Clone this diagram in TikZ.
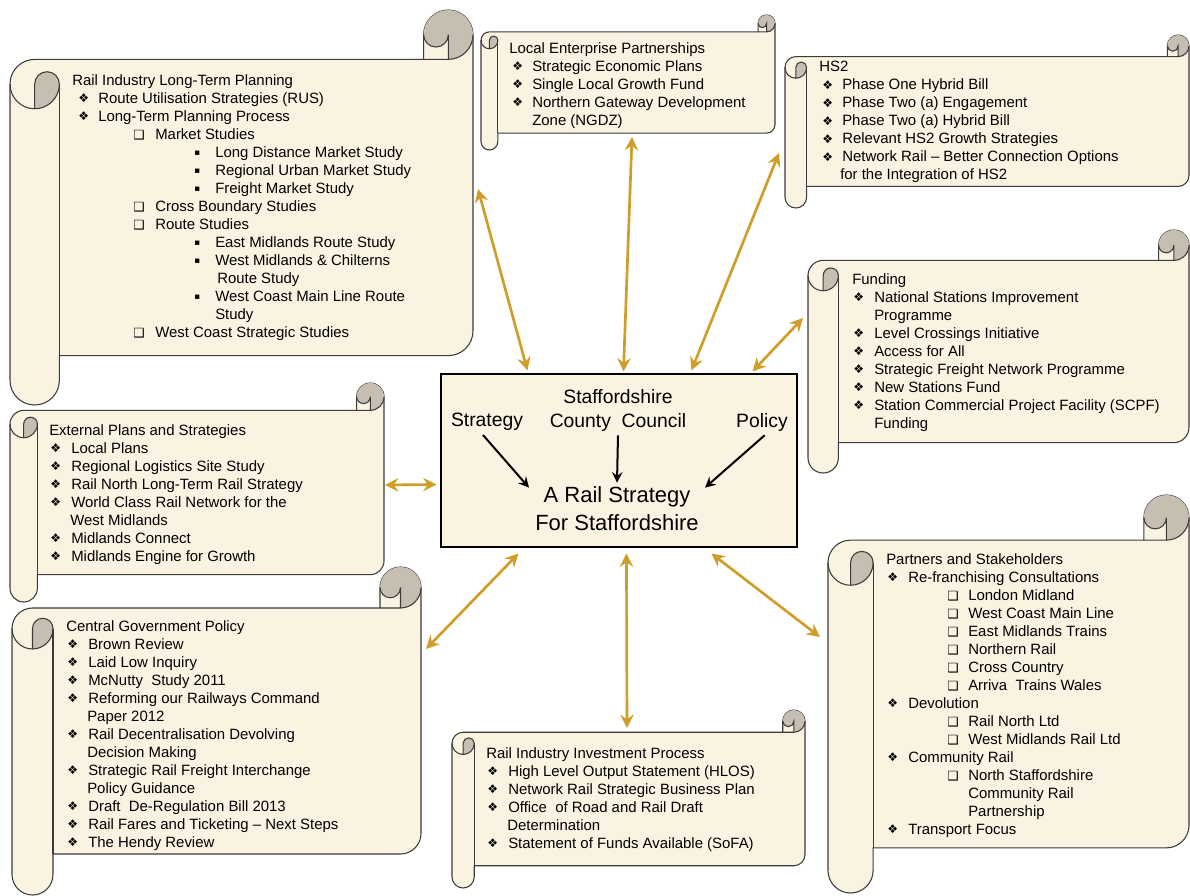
\documentclass[tikz,border=0pt]{standalone}
\usepackage{fontspec}
\setmainfont{Liberation Sans}
\newfontfamily\symfont{DejaVu Sans}
\usetikzlibrary{arrows.meta}

\definecolor{paper}{RGB}{250,243,226}
\definecolor{curlshade}{RGB}{198,190,176}
\definecolor{rim}{RGB}{60,60,60}
\definecolor{ochre}{RGB}{207,157,42}

\newdimen\pxu \pxu=0.75pt
\newlength\indone \newlength\txtone
\newlength\indtwo \newlength\txttwo
\newlength\indthree \newlength\txtthree
\newcommand\setindents[2]{\setlength\indone{#1\pxu}\setlength\txtone{#2\pxu}}
\newcommand\setdeep[4]{\setlength\indtwo{#1\pxu}\setlength\txttwo{#2\pxu}%
  \setlength\indthree{#3\pxu}\setlength\txtthree{#4\pxu}}
\newcommand\diamondmark{\raisebox{0.3pt}{\symfont\fontsize{9}{9}\selectfont ❖}}
\newcommand\boxmark{\raisebox{0pt}{\symfont\fontsize{9.5}{9.5}\selectfont ❑}}
\newcommand\squaremark{\raisebox{1pt}{\symfont\fontsize{6.5}{6.5}\selectfont ▪}}
\newcommand\itemone[1]{\hspace*{\indone}\makebox[\dimexpr\txtone-\indone\relax][l]{\diamondmark}#1}
\newcommand\itemtwo[1]{\hspace*{\indtwo}\makebox[\dimexpr\txttwo-\indtwo\relax][l]{\boxmark}#1}
\newcommand\itemthree[1]{\hspace*{\indthree}\makebox[\dimexpr\txtthree-\indthree\relax][l]{\squaremark}#1}
\newcommand\contline[2]{\hspace*{#1\pxu}#2}

% horizontal scroll: left, top, right, bottom (in pixels)
\newcommand\railscroll[4]{%
  \pgfmathsetmacro\sch{0.125*min(#3-#1,#4-#2)}%
  \pgfmathsetmacro\schh{\sch/2}%
  \pgfmathsetmacro\schq{\sch/4}%
  \filldraw[scroll] (#1,#2+1.5*\sch) arc[start angle=180,end angle=270,radius=\schh]
    -- (#3-\sch,#2+\sch) -- (#3-\sch,#2+\schh)
    arc[start angle=180,end angle=360,radius=\schh]
    -- (#3,#4-1.5*\sch)
    arc[start angle=0,end angle=90,radius=\schh]
    -- (#1+\sch,#4-\sch) -- (#1+\sch,#4-\schh)
    arc[start angle=0,end angle=180,radius=\schh] -- cycle;
  \fill[curl] (#3-\schh,#2+\sch) arc[start angle=90,end angle=-180,radius=\schh]
    arc[start angle=180,end angle=0,radius=\schq] -- cycle;
  \fill[curl] (#1+\schh,#2+2*\sch) arc[start angle=90,end angle=0,radius=\schh]
    arc[start angle=0,end angle=-180,radius=\schq] -- cycle;
  \draw[rimline] (#3-\sch,#2+\sch) -- (#3-\schh,#2+\sch)
    arc[start angle=90,end angle=0,radius=\schh];
  \draw[rimline] (#3-\schh,#2+\sch) -- (#3-\schh,#2+\schh)
    arc[start angle=0,end angle=180,radius=\schq];
  \draw[rimline] (#1+\schh,#2+2*\sch) -- (#1+\schh,#2+1.5*\sch)
    arc[start angle=180,end angle=360,radius=\schq]
    arc[start angle=0,end angle=180,radius=\schh];
  \draw[rimline] (#1+\sch,#2+1.5*\sch) -- (#1+\sch,#4-\sch);
}

\begin{document}
\begin{tikzpicture}[x=0.75pt, y=-0.75pt,
  scroll/.style={fill=paper, draw=rim, line width=0.8pt, line join=round},
  curl/.style={fill=curlshade},
  rimline/.style={draw=rim, line width=0.8pt},
  listtext/.style={anchor=north west, align=left, inner sep=0pt,
    font=\fontsize{11.2}{13.5}\selectfont},
  link/.style={ochre, line width=2pt,
    {Stealth[length=10pt,width=10pt,inset=3.5pt]}-{Stealth[length=10pt,width=10pt,inset=3.5pt]}},
  feed/.style={black, line width=1.5pt, -{Stealth[length=8pt,width=8pt,inset=3pt]}},
  hublabel/.style={font=\fontsize{14.5}{18}\selectfont, align=center, inner sep=3pt}]
\useasboundingbox (0,0) rectangle (1190,896);
\fill[white] (0,0) rectangle (1190,896);

% the eight scrolls
\railscroll{10}{10}{473}{405}
\railscroll{481}{15}{775}{150}
\railscroll{785}{35}{1189}{208}
\railscroll{808}{230}{1189}{473}
\railscroll{10}{383}{384}{602}
\railscroll{12}{567}{421}{895}
\railscroll{452}{710}{805}{888}
\railscroll{828}{495}{1189}{893}

\setindents{6}{26}\setdeep{61}{83}{122}{143}
\node[listtext] (ltp) at (72,74) {Rail Industry Long-Term Planning\\
  \itemone{Route Utilisation Strategies (RUS)}\\
  \itemone{Long-Term Planning Process}\\
  \itemtwo{Market Studies}\\
  \itemthree{Long Distance Market Study}\\
  \itemthree{Regional Urban Market Study}\\
  \itemthree{Freight Market Study}\\
  \itemtwo{Cross Boundary Studies}\\
  \itemtwo{Route Studies}\\
  \itemthree{East Midlands Route Study}\\
  \itemthree{West Midlands \& Chilterns}\\
  \contline{145}{Route Study}\\
  \itemthree{West Coast Main Line Route}\\
  \contline{143}{Study}\\
  \itemtwo{West Coast Strategic Studies}};

\setindents{3}{23}
\node[listtext] (lep) at (509,42) {Local Enterprise Partnerships\\
  \itemone{Strategic Economic Plans}\\
  \itemone{Single Local Growth Fund}\\
  \itemone{Northern Gateway Development}\\
  \contline{23}{Zone (NGDZ)}};

\node[listtext] (hs2) at (819,61) {HS2\\
  \itemone{Phase One Hybrid Bill}\\
  \itemone{Phase Two (a) Engagement}\\
  \itemone{Phase Two (a) Hybrid Bill}\\
  \itemone{Relevant HS2 Growth Strategies}\\
  \itemone{Network Rail -- Better Connection Options}\\
  \contline{21}{for the Integration of HS2}};

\setindents{1}{22}
\node[listtext] (fund) at (852,273) {Funding\\
  \itemone{National Stations Improvement}\\
  \contline{22}{Programme}\\
  \itemone{Level Crossings Initiative}\\
  \itemone{Access for All}\\
  \itemone{Strategic Freight Network Programme}\\
  \itemone{New Stations Fund}\\
  \itemone{Station Commercial Project Facility (SCPF)}\\
  \contline{22}{Funding}};

\node[listtext] (ext) at (49,424) {External Plans and Strategies\\
  \itemone{Local Plans}\\
  \itemone{Regional Logistics Site Study}\\
  \itemone{Rail North Long-Term Rail Strategy}\\
  \itemone{World Class Rail Network for the}\\
  \contline{21}{West Midlands}\\
  \itemone{Midlands Connect}\\
  \itemone{Midlands Engine for Growth}};

\node[listtext] (cgp) at (66,620) {Central Government Policy\\
  \itemone{Brown Review}\\
  \itemone{Laid Low Inquiry}\\
  \itemone{McNutty~ Study 2011}\\
  \itemone{Reforming our Railways Command}\\
  \contline{21}{Paper 2012}\\
  \itemone{Rail Decentralisation Devolving}\\
  \contline{21}{Decision Making}\\
  \itemone{Strategic Rail Freight Interchange}\\
  \contline{21}{Policy Guidance}\\
  \itemone{Draft~ De-Regulation Bill 2013}\\
  \itemone{Rail Fares and Ticketing -- Next Steps}\\
  \itemone{The Hendy Review}};

\node[listtext] (rip) at (486,747) {Rail Industry Investment Process\\
  \itemone{High Level Output Statement (HLOS)}\\
  \itemone{Network Rail Strategic Business Plan}\\
  \itemone{Office~ of Road and Rail Draft}\\
  \contline{21}{Determination}\\
  \itemone{Statement of Funds Available (SoFA)}};

\setdeep{61}{82}{122}{143}
\node[listtext] (pas) at (886,553) {Partners and Stakeholders\\
  \itemone{Re-franchising Consultations}\\
  \itemtwo{London Midland}\\
  \itemtwo{West Coast Main Line}\\
  \itemtwo{East Midlands Trains}\\
  \itemtwo{Northern Rail}\\
  \itemtwo{Cross Country}\\
  \itemtwo{Arriva~ Trains Wales}\\
  \itemone{Devolution}\\
  \itemtwo{Rail North Ltd}\\
  \itemtwo{West Midlands Rail Ltd}\\
  \itemone{Community Rail}\\
  \itemtwo{North Staffordshire}\\
  \contline{82}{Community Rail}\\
  \contline{82}{Partnership}\\
  \itemone{Transport Focus}};

% central box
\node[draw=black, fill=paper, line width=0.8pt, minimum width=267pt,
  minimum height=129.75pt, inner sep=0pt] (hub) at (619,460.5) {};
\node[hublabel] (strat) at (487,422) {Strategy};
\node[hublabel] (council) at (618,410) {Staffordshire\\County~ Council};
\node[hublabel] (policy) at (762,422) {Policy};
\node[font=\fontsize{16.5}{21}\selectfont, align=center, inner sep=3pt] (ttl)
  at (617,509) {A Rail Strategy\\For Staffordshire};
\draw[feed] ([xshift=-3pt]strat.south) -- ([shift={(-2,5)}]ttl.north west);
\draw[feed] (council.south) -- (ttl.north);
\draw[feed] ([xshift=2pt]policy.south) -- ([shift={(2,5)}]ttl.north east);

% links to the scrolls
\coordinate (ltp-port) at (478,189);
\coordinate (lep-port) at (632,137);
\coordinate (hs2-port) at (779,153);
\coordinate (fund-port) at (803,318);
\coordinate (ext-port) at (385,485);
\coordinate (cgp-port) at (426,649);
\coordinate (rip-port) at (627,728);
\coordinate (pas-port) at (820,637);
\draw[link] (ltp-port) -- ([shift={(87,-3)}]hub.north west);
\draw[link] (lep-port) -- ([shift={(183,-2)}]hub.north west);
\draw[link] (hs2-port) -- ([shift={(251,-3)}]hub.north west);
\draw[link] (fund-port) -- ([shift={(-45,-2)}]hub.north east);
\draw[link] (ext-port) -- ([shift={(-4,111)}]hub.north west);
\draw[link] (cgp-port) -- ([shift={(78,6)}]hub.south west);
\draw[link] (rip-port) -- ([shift={(186,6)}]hub.south west);
\draw[link] (pas-port) -- ([shift={(271,6)}]hub.south west);
\end{tikzpicture}
\end{document}
